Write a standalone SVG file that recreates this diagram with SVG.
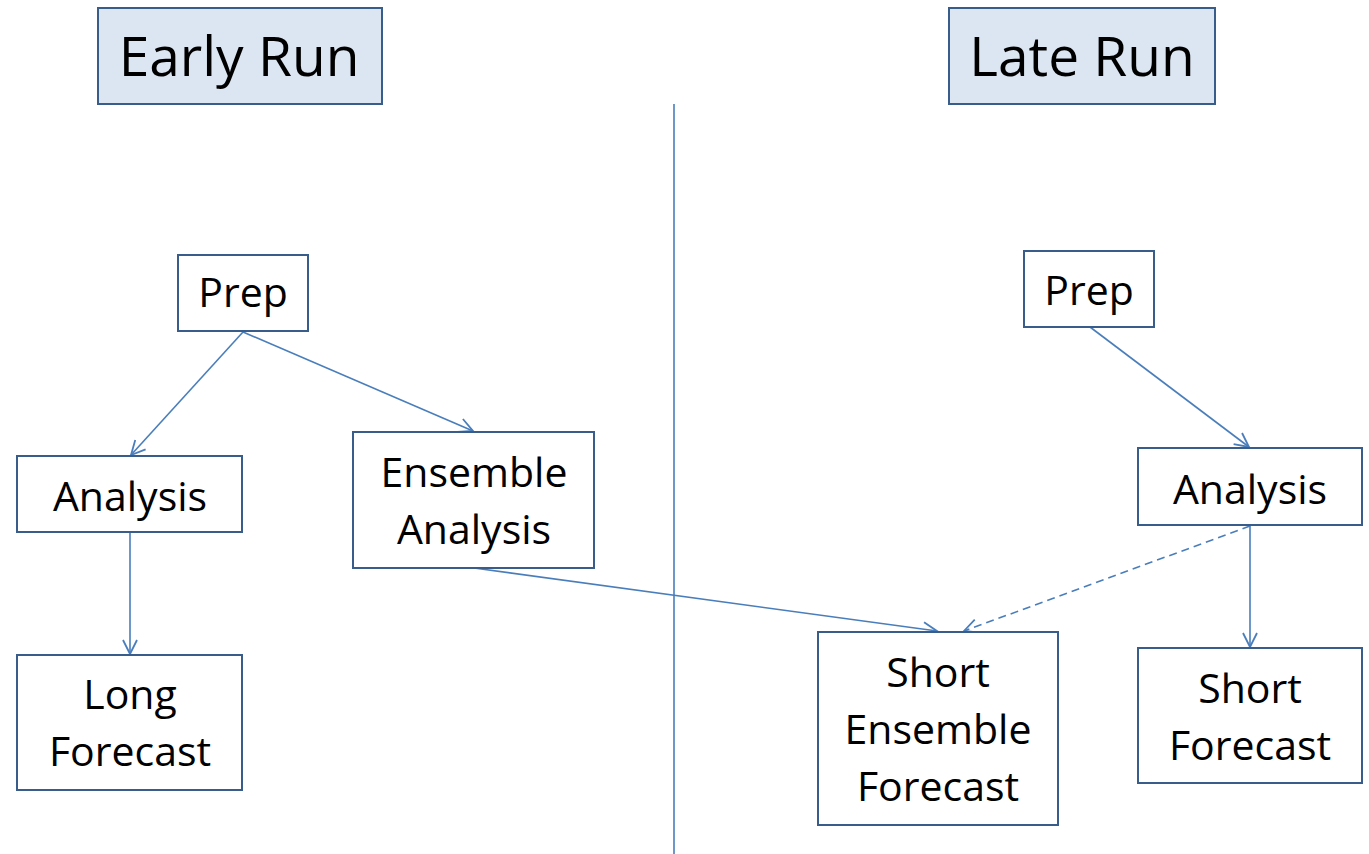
<svg xmlns="http://www.w3.org/2000/svg" width="1369" height="854" viewBox="0 0 1369 854">
<style>
.title rect{fill:#dce6f2;stroke:#385d8a;stroke-width:2}
.node rect{fill:#fff;stroke:#385d8a;stroke-width:2}
text{font-family:"Open Sans",Lato,sans-serif;fill:#000;text-anchor:middle}
.tt{font-size:55px}
.nt{font-size:41px}
.c{stroke:#4a7ebb;stroke-width:1.6;fill:none;marker-end:url(#a)}
</style>
<defs>
<marker id="a" markerWidth="20" markerHeight="20" refX="16" refY="8" orient="auto" markerUnits="userSpaceOnUse">
<path d="M2,1 L16,8 L2,15" fill="none" stroke="#4a7ebb" stroke-width="1.8"/>
</marker>
</defs>
<rect width="1369" height="854" fill="#fff"/>
<g id="early-run" class="title"><rect x="98" y="8" width="284" height="96"/><text class="tt" x="239" y="76">Early Run</text></g>
<g id="late-run" class="title"><rect x="949" y="8" width="266" height="96"/><text class="tt" x="1082" y="76">Late Run</text></g>
<g id="connectors">
<line x1="674" y1="104" x2="674" y2="854" stroke="#4a7ebb" stroke-width="1.6"/>
<line class="c" x1="243" y1="332" x2="131" y2="455"/>
<line class="c" x1="243" y1="332" x2="473" y2="431"/>
<line class="c" x1="130" y1="533" x2="130" y2="654"/>
<line class="c" x1="474" y1="568" x2="937" y2="631"/>
<line class="c" x1="1090" y1="327" x2="1249" y2="447"/>
<line class="c" x1="1250" y1="526" x2="1250" y2="647"/>
<line class="c" x1="1250" y1="526" x2="964" y2="631" stroke-dasharray="8,5"/>
</g>
<g id="prep-early" class="node"><rect x="178" y="255" width="130" height="76"/><text class="nt" x="243" y="307">Prep</text></g>
<g id="analysis-early" class="node"><rect x="17" y="456" width="225" height="76"/><text class="nt" x="130" y="511">Analysis</text></g>
<g id="ensemble-analysis" class="node"><rect x="353" y="432" width="241" height="136"/><text class="nt" x="474" y="487">Ensemble</text><text class="nt" x="474" y="544">Analysis</text></g>
<g id="long-forecast" class="node"><rect x="17" y="655" width="225" height="135"/><text class="nt" x="130" y="709">Long</text><text class="nt" x="130" y="766">Forecast</text></g>
<g id="prep-late" class="node"><rect x="1024" y="251" width="130" height="76"/><text class="nt" x="1089" y="305">Prep</text></g>
<g id="analysis-late" class="node"><rect x="1138" y="448" width="224" height="77"/><text class="nt" x="1250" y="504">Analysis</text></g>
<g id="short-ensemble-forecast" class="node"><rect x="818" y="632" width="240" height="193"/><text class="nt" x="938" y="687">Short</text><text class="nt" x="938" y="744">Ensemble</text><text class="nt" x="938" y="801">Forecast</text></g>
<g id="short-forecast" class="node"><rect x="1138" y="648" width="224" height="135"/><text class="nt" x="1250" y="703">Short</text><text class="nt" x="1250" y="760">Forecast</text></g>
</svg>
